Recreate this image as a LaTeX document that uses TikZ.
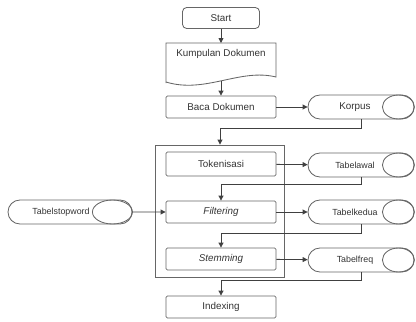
\documentclass[tikz,border=0pt]{standalone}
\usepackage{fontspec}
\setmainfont{Liberation Sans}
\usetikzlibrary{arrows.meta, positioning, shapes.misc}

\tikzset{
  line/.style={draw=black!75, line width=0.6pt},
  arr/.style={line, -{Triangle[length=3.5pt, width=3.5pt]}},
  procbox/.style={line, draw=black!60, rounded corners=1pt, minimum width=2.75cm, minimum height=0.55cm, inner sep=0pt},
  storage/.style={line, draw=black!60, rounded rectangle, minimum width=2.65cm, minimum height=0.6cm, inner sep=0pt, font=\fontsize{6.3}{7.5}\selectfont},
}

\begin{document}
\begin{tikzpicture}[x=0.025cm, y=-0.025cm, font=\fontsize{7}{8.4}\selectfont, text=black!80]
\useasboundingbox (0,0) rectangle (416,322);

% --- Main flow ---
\node[procbox, rounded corners=3pt, minimum width=1.925cm, minimum height=0.525cm] (start) at (221,18) {Start};

\node[inner sep=0pt] (kumpulan) at (221,54) {Kumpulan Dokumen};
\draw[line, draw=black!60] (166,83) -- (166,43) -- (276,43) -- (276,77)
  .. controls (240,68) and (205,94) .. (166,82);
\coordinate (kumpulanbawah) at (221,81);

\node[procbox] (baca) at (221,107) {Baca Dokumen};

% Preprocessing block
\node[line, draw=black!60, minimum width=3.225cm, minimum height=3.3cm, inner sep=0pt] (praproses) at (220,211) {};
\node[procbox, minimum height=0.6cm] (tokenisasi) at (221,164) {Tokenisasi};
\node[procbox] (filtering) at (221,212) {\itshape Filtering};
\node[procbox] (stemming) at (221,259) {\itshape Stemming};

\node[procbox] (indexing) at (221,307) {Indexing};

% --- Storage ---
\node[storage, font=\fontsize{7}{8.4}\selectfont] (korpus) at (361,107) {\hspace*{-0.3cm}Korpus};
\node[storage] (tabelawal) at (361,165) {\hspace*{-0.3cm}Tabelawal};
\node[storage] (tabelkedua) at (361,212) {\hspace*{-0.3cm}Tabelkedua};
\node[storage] (tabelfreq) at (361,260) {\hspace*{-0.3cm}Tabelfreq};
\node[storage, minimum width=3.1cm] (tabelstopword) at (70,212) {\hspace*{-0.45cm}Tabelstopword};

\foreach \s in {korpus, tabelawal, tabelkedua, tabelfreq}
  \draw[line, draw=black!60] ([xshift=-0.4cm]\s.east) ellipse [x radius=0.4cm, y radius=0.3cm];
\draw[line, draw=black!60] ([xshift=-0.5cm]tabelstopword.east) ellipse [x radius=0.5cm, y radius=0.3cm];

% --- Connectors ---
\draw[arr] (start) -- (kumpulan.north |- 0,43);
\draw[arr] (kumpulanbawah) -- (baca);
\draw[arr] (baca) -- (korpus);
\draw[arr] (korpus.south) -- ++(0,9) -| (praproses.north);

\draw[arr] (tokenisasi) -- (tabelawal);
\draw[arr] (tabelawal.south) -- ++(0,7) -| (filtering.north);
\draw[arr] (tabelstopword) -- (filtering);
\draw[arr] (filtering) -- (tabelkedua);
\draw[arr] (tabelkedua.south) -- ++(0,9) -| (stemming.north);
\draw[arr] (stemming) -- (tabelfreq);
\draw[arr] (tabelfreq.south) -- ++(0,8) -| (indexing.north);

\end{tikzpicture}
\end{document}
